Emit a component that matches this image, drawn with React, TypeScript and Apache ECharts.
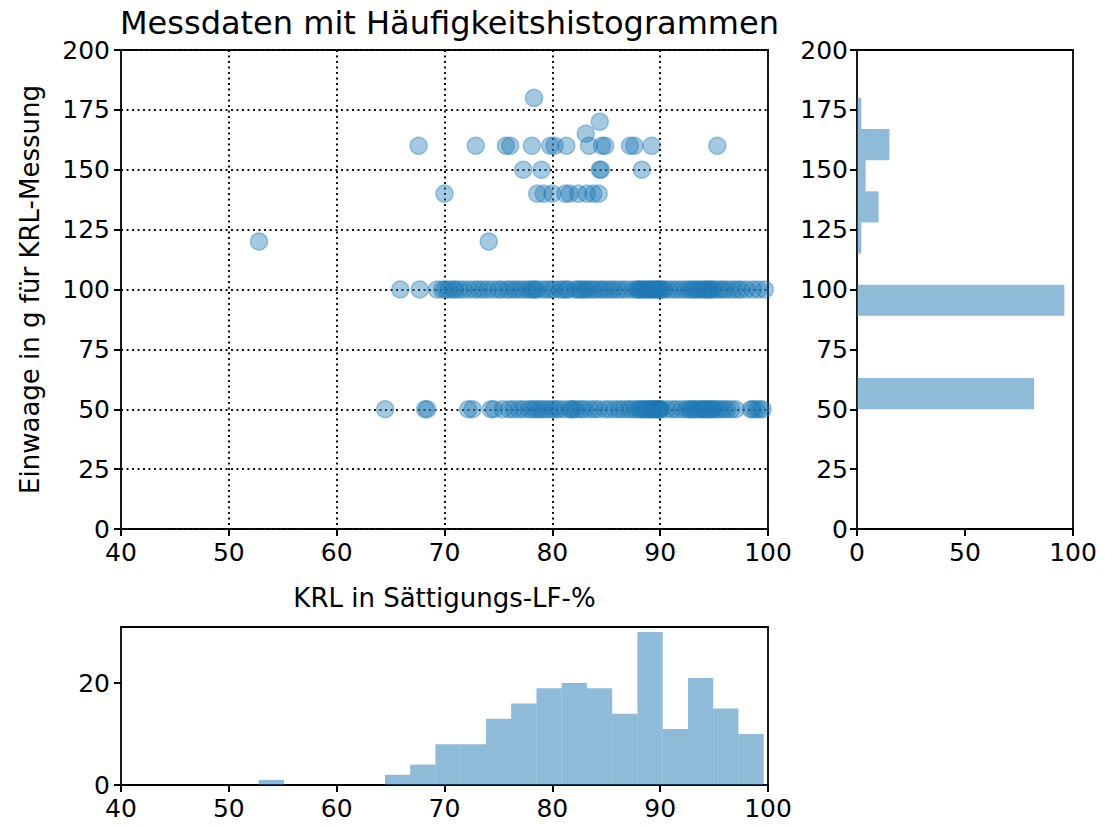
import React, { useEffect, useRef } from "react";
import * as echarts from "echarts";

// ---- Data ----
const titleText = "Messdaten mit Häufigkeitshistogrammen";
const xName = "KRL in Sättigungs-LF-%";
const yName = "Einwaage in g für KRL-Messung";

// scatter: x values of the points at Einwaage = 50 g
const row50X = [
  64.5, 68.2, 68.4, 72.2, 72.6, 74.3, 74.6, 75.4, 76.0,
  76.4, 76.9, 77.3, 77.8, 78.1, 78.4,
  78.7, 79.0, 79.3, 79.7, 80.0, 80.3, 80.6,
  81.1, 81.6, 81.8, 82.0, 82.3, 82.7, 83.0,
  83.5, 83.9, 84.3, 84.9, 85.3,
  85.8, 86.2, 86.6, 87.0, 87.3, 87.7,
  88.0, 88.2, 88.4, 88.6, 88.8, 89.0, 89.1, 89.3, 89.5, 89.6, 89.8, 89.9, 90.0, 90.1,
  90.6, 91.1, 91.5, 92.0, 92.4,
  92.7, 92.9, 93.1, 93.3, 93.6, 93.8, 94.0, 94.2, 94.4, 94.6, 94.8,
  95.0, 95.3, 95.6, 95.9, 96.2, 96.6, 97.0,
  98.4, 98.6, 98.9, 99.2, 99.5,
];

// scatter: x values of the points at Einwaage = 100 g
const row100X = [
  65.9, 67.7,
  69.3, 69.8, 70.1, 70.4, 70.8, 71.0, 71.4,
  71.8, 72.3, 72.8, 73.2, 73.6,
  74.0, 74.5, 75.0, 75.3, 75.8, 76.1,
  76.5, 76.8, 77.2, 77.6, 77.9, 78.2, 78.4,
  78.6, 79.1, 79.5, 79.9, 80.2, 80.7,
  81.0, 81.3, 81.5, 82.1, 82.4, 82.6, 82.9, 83.1,
  83.4, 83.7, 84.0, 84.4, 84.7, 85.0, 85.4,
  85.7, 86.1, 86.5, 86.9, 87.4, 87.8,
  87.95, 88.1, 88.3, 88.5, 88.7, 88.9, 89.0, 89.2, 89.4, 89.6, 89.7, 89.9, 90.0, 90.2,
  90.4, 90.8, 91.2, 91.6, 92.0, 92.4,
  92.7, 93.0, 93.2, 93.5, 93.7, 94.0, 94.2, 94.4, 94.6, 94.8,
  95.0, 95.4, 95.7, 96.0, 96.4, 96.8, 97.2,
  97.5, 98.0, 98.6, 99.1, 99.7,
];

// scatter: the remaining (sparse) points as [x, y]
const otherPoints: number[][] = [
  [78.3, 180], [84.4, 170], [83.1, 165],
  [67.6, 160], [72.9, 160], [75.7, 160], [76.1, 160], [78.1, 160], [79.8, 160],
  [80.2, 160], [81.3, 160], [83.4, 160], [84.6, 160], [84.9, 160], [87.2, 160],
  [87.6, 160], [89.2, 160], [95.3, 160],
  [77.3, 150], [79.0, 150], [84.4, 150], [84.5, 150], [88.3, 150],
  [70.0, 140], [78.6, 140], [79.2, 140], [80.0, 140], [81.2, 140], [81.6, 140],
  [82.4, 140], [83.2, 140], [83.8, 140], [84.3, 140],
  [52.8, 120], [74.1, 120],
];

// bottom histogram (KRL): bin edges and counts
const xBinEdges = [
  52.77, 55.11, 57.45, 59.8, 62.14, 64.48, 66.82, 69.16, 71.5, 73.84, 76.18,
  78.53, 80.87, 83.21, 85.55, 87.89, 90.24, 92.58, 94.92, 97.26, 99.6,
];
const xBinCounts = [1, 0, 0, 0, 0, 2, 4, 8, 8, 13, 16, 19, 20, 19, 14, 30, 11, 21, 15, 10];

// right histogram (Einwaage): bin edges and counts
const yBinEdges = [50, 63, 76, 89, 102, 115, 128, 141, 154, 167, 180];
const yBinCounts = [82, 0, 0, 96, 0, 2, 10, 4, 15, 2];

// ---- Styling ----
const FONT = "DejaVu Sans";
const BLUE_A = "rgba(31,119,180,0.5)";
const FS = 25;
const NAME_FS = 26;

const labelStyle = { color: "#000", fontSize: FS, fontFamily: FONT };
const nameStyle = { color: "#000", fontSize: NAME_FS, fontFamily: FONT };
const tickStyle = { show: true, inside: false, length: 7, lineStyle: { color: "#000", width: 2 } };
const dotted = { show: true, lineStyle: { color: "#111", width: 2, type: [2, 3.5] as number[] } };

function buildOption() {
  const scatterData = [
    ...row50X.map((x) => [x, 50]),
    ...row100X.map((x) => [x, 100]),
    ...otherPoints,
  ];
  const xHist = xBinCounts.map((c, i) => [xBinEdges[i], xBinEdges[i + 1], c]);
  const yHist = yBinCounts.map((c, i) => [yBinEdges[i], yBinEdges[i + 1], c]);

  const gridBase = { show: true, borderColor: "#000", borderWidth: 1.8, backgroundColor: "transparent", containLabel: false };

  return {
    animation: false,
    backgroundColor: "#fff",
    title: {
      text: titleText,
      left: 444.5,
      textAlign: "center",
      top: 2,
      textStyle: { fontFamily: FONT, fontSize: 32, fontWeight: "normal", color: "#000" },
    },
    grid: [
      { ...gridBase, left: 121, top: 50, width: 647, height: 479 },
      { ...gridBase, left: 857, top: 50, width: 216, height: 479 },
      { ...gridBase, left: 121, top: 627, width: 647, height: 158 },
    ],
    xAxis: [
      {
        gridIndex: 0, type: "value", min: 40, max: 100, interval: 10,
        axisLine: { show: false }, axisTick: tickStyle,
        axisLabel: { ...labelStyle, margin: 11 },
        splitLine: dotted,
        name: xName, nameLocation: "middle", nameGap: 56,
        nameTextStyle: { ...nameStyle },
      },
      {
        gridIndex: 1, type: "value", min: 0, max: 100, interval: 50,
        axisLine: { show: false }, axisTick: tickStyle,
        axisLabel: { ...labelStyle, margin: 11 },
        splitLine: { show: false },
      },
      {
        gridIndex: 2, type: "value", min: 40, max: 100, interval: 10,
        axisLine: { show: false }, axisTick: tickStyle,
        axisLabel: { ...labelStyle, margin: 11 },
        splitLine: { show: false },
      },
    ],
    yAxis: [
      {
        gridIndex: 0, type: "value", min: 0, max: 200, interval: 25,
        axisLine: { show: false }, axisTick: tickStyle,
        axisLabel: { ...labelStyle, margin: 11 },
        splitLine: dotted,
        name: yName, nameLocation: "middle", nameGap: 78,
        nameTextStyle: { ...nameStyle },
      },
      {
        gridIndex: 1, type: "value", min: 0, max: 200, interval: 25,
        axisLine: { show: false }, axisTick: tickStyle,
        axisLabel: { ...labelStyle, margin: 9 },
        splitLine: { show: false },
      },
      {
        gridIndex: 2, type: "value", min: 0, max: 31,
        axisLine: { show: false },
        axisTick: { ...tickStyle, customValues: [0, 20] },
        axisLabel: { ...labelStyle, margin: 11, customValues: [0, 20] },
        splitLine: { show: false },
      },
    ],
    series: [
      {
        type: "scatter",
        xAxisIndex: 0, yAxisIndex: 0,
        data: scatterData,
        symbol: "circle",
        symbolSize: 17,
        clip: true,
        itemStyle: { color: BLUE_A, borderColor: BLUE_A, borderWidth: 1.5 },
      },
      {
        type: "custom",
        xAxisIndex: 1, yAxisIndex: 1,
        data: yHist,
        encode: { x: 2, y: [0, 1] },
        renderItem: (params: any, api: any) => {
          const y0 = api.value(0), y1 = api.value(1), c = api.value(2);
          const p0 = api.coord([0, y0]);
          const p1 = api.coord([c, y1]);
          return {
            type: "rect",
            shape: { x: p0[0], y: p1[1], width: p1[0] - p0[0], height: p0[1] - p1[1] },
            style: { fill: BLUE_A },
          };
        },
      },
      {
        type: "custom",
        xAxisIndex: 2, yAxisIndex: 2,
        data: xHist,
        encode: { x: [0, 1], y: 2 },
        renderItem: (params: any, api: any) => {
          const x0 = api.value(0), x1 = api.value(1), c = api.value(2);
          const p0 = api.coord([x0, 0]);
          const p1 = api.coord([x1, c]);
          return {
            type: "rect",
            shape: { x: p0[0], y: p1[1], width: p1[0] - p0[0], height: p0[1] - p1[1] },
            style: { fill: BLUE_A },
          };
        },
      },
    ],
  };
}

export default function App() {
  const ref = useRef<HTMLDivElement>(null);
  useEffect(() => {
    if (!ref.current) return;
    const chart = echarts.init(ref.current, null, { renderer: "svg" });
    chart.setOption(buildOption() as any);
    return () => chart.dispose();
  }, []);
  return (
    <div
      ref={ref}
      style={{ position: "fixed", left: 0, top: 0, width: 1105, height: 827, background: "#fff" }}
    />
  );
}
